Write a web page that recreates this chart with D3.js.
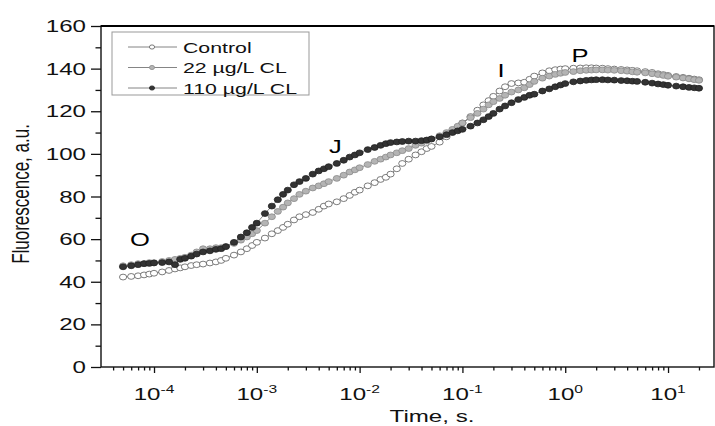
<!DOCTYPE html>
<html>
<head>
<meta charset="utf-8">
<script src="https://cdn.jsdelivr.net/npm/d3@7/dist/d3.min.js"></script>
<style>
  body { margin: 0; background: #fff; }
  svg { font-family: Arial, "Liberation Sans", sans-serif; }
</style>
</head>
<body>
<svg id="svg-chart" width="715" height="426"></svg>
<script>
//////////////////////////////////////////////////////////////////////////////////////////
// Data
//////////////////////////////////////////////////////////////////////////////////////////

var times = [
  5e-5, 6e-5, 7e-5, 8e-5, 9e-5,
  1e-4, 1.2e-4, 1.4e-4, 1.6e-4, 1.8e-4, 2e-4, 2.3e-4, 2.6e-4, 3e-4, 3.5e-4, 4e-4, 4.5e-4, 5e-4, 6e-4, 7e-4, 8e-4, 9e-4,
  1e-3, 1.2e-3, 1.4e-3, 1.6e-3, 1.8e-3, 2e-3, 2.3e-3, 2.6e-3, 3e-3, 3.5e-3, 4e-3, 4.5e-3, 5e-3, 6e-3, 7e-3, 8e-3, 9e-3,
  1e-2, 1.2e-2, 1.4e-2, 1.6e-2, 1.8e-2, 2e-2, 2.3e-2, 2.6e-2, 3e-2, 3.5e-2, 4e-2, 4.5e-2, 5e-2, 6e-2, 7e-2, 8e-2, 9e-2,
  0.1, 0.12, 0.14, 0.16, 0.18, 0.2, 0.23, 0.26, 0.3, 0.35, 0.4, 0.45, 0.5, 0.6, 0.7, 0.8, 0.9,
  1, 1.2, 1.4, 1.6, 1.8, 2, 2.3, 2.6, 3, 3.5, 4, 4.5, 5, 6, 7, 8, 9,
  10, 12, 14, 16, 18, 20
]

var control_values = [
  42.2, 42.5, 42.8, 43.2, 43.6,
  44, 44.6, 45.3, 46, 46.5, 47, 47.6, 48, 48.3, 48.8, 49.3, 50, 51, 52.5, 54, 55.5, 57,
  58.5, 60.5, 62.5, 64, 65.5, 67, 69, 70.5, 71.5, 72.5, 74, 75.5, 76.5, 77.5, 79, 80.5, 82,
  83, 85, 86.5, 88, 89, 90.5, 93, 95.5, 97.5, 99.5, 101, 102.5, 103.5, 105.5, 108, 110.5, 112.5,
  114.5, 117.5, 120.5, 123, 125, 127, 129.5, 131.5, 133, 133.3, 133.6, 135, 136.5, 138, 139, 139.5, 139.8,
  140, 140.2, 140.3, 140.4, 140.4, 140.3, 140.2, 140, 139.8, 139.6, 139.4, 139.2, 139, 138.6, 138.2, 137.6, 137.2,
  136.8, 136.3, 135.9, 135.5, 135.1, 134.8
]

var cl22_values = [
  47.5, 48, 48.5, 48.5, 49,
  49, 49.5, 50, 50.5, 51, 51.5, 52.5, 54, 55.5, 55.5, 56, 56, 56.5, 58, 59.5, 61, 62.5,
  64, 67.5, 70.5, 73, 75, 77, 79, 81, 82.5, 84, 85, 86, 87, 88.5, 90, 91.5, 92.5,
  93.5, 95, 96.5, 97.5, 98.5, 99.5, 100.5, 101.5, 102.5, 104, 105, 106, 107, 108.5, 110, 111.5, 113,
  114.5, 117, 119, 121, 123, 124.5, 126, 127.5, 129, 130, 131, 132.5, 134, 135.5, 136.5, 137.3, 137.8,
  138.2, 138.6, 139, 139.2, 139.3, 139.4, 139.4, 139.3, 139.2, 139, 138.8, 138.5, 138.3, 138, 137.6, 137.2, 136.8,
  136.4, 136, 135.6, 135.2, 134.8, 134.5
]

var cl110_values = [
  47, 47.5, 48, 48.5, 48.6,
  48.8, 49, 49.3, 48, 50.5, 51, 52, 53, 54, 54.5, 55.2, 55.5, 56.5, 58.5, 61, 63, 65.5,
  67.5, 72, 75.5, 78.5, 81, 83, 85.5, 87, 88.5, 90.5, 92, 93, 94, 95.5, 97, 98.5, 99.5,
  100.5, 102, 103, 104, 104.8, 105.3, 105.6, 105.8, 106, 106, 106.2, 106.5, 107, 108, 109, 110, 110.8,
  111.5, 113, 114.5, 116, 117.5, 119, 121, 122.5, 124, 125.5, 126.5, 127.5, 128, 129.5, 130.5, 131.5, 132.3,
  133, 133.8, 134.2, 134.5, 134.7, 134.8, 134.8, 134.7, 134.6, 134.4, 134.3, 134.1, 134, 133.6, 133.2, 132.8, 132.5,
  132.2, 131.8, 131.5, 131.2, 131, 130.8
]

var series_names = ['Control', '22 \u00b5g/L CL', '110 \u00b5g/L CL']
var y_tick_values = [0, 20, 40, 60, 80, 100, 120, 140, 160]
var y_minor_values = [10, 30, 50, 70, 90, 110, 130, 150]
var x_tick_exponents = [-4, -3, -2, -1, 0, 1]

var phase_labels = ['O', 'J', 'I', 'P']
var phase_times = [7.3e-5, 5.8e-3, 0.237, 1.39]
var phase_values = [57, 100.5, 136, 143]

//////////////////////////////////////////////////////////////////////////////////////////
// Global variables
//////////////////////////////////////////////////////////////////////////////////////////

var plot = { left: 101, right: 714, top: 26, bottom: 367 }
var text_stretch = 1.42

var marker_styles = [
  { fill: '#ffffff', stroke: '#5a5a5a' },
  { fill: '#b4b4b4', stroke: '#8a8a8a' },
  { fill: '#333333', stroke: '#222222' }
]

var x = d3.scaleLog()
  .domain([3.05e-5, 28])
  .range([plot.left, plot.right])

var y = d3.scaleLinear()
  .domain([0, 160])
  .range([plot.bottom, plot.top])

var svg = d3.select('#svg-chart')

draw_axes()
draw_series([control_values, cl22_values, cl110_values])
draw_phase_labels()
draw_legend()

//////////////////////////////////////////////////////////////////////////////////////////
// Helpers
//////////////////////////////////////////////////////////////////////////////////////////

// the picture is stretched sideways, so text is too
function stretched_text(parent, px, py, str, size, anchor) {
  return parent.append('text')
    .attr('transform', 'translate(' + px + ',' + py + ') scale(' + text_stretch + ',1)')
    .attr('font-size', size)
    .attr('text-anchor', anchor)
    .attr('fill', '#111')
    .text(str)
}

//////////////////////////////////////////////////////////////////////////////////////////
// Axes and frame
//////////////////////////////////////////////////////////////////////////////////////////

function draw_axes() {
  var g = svg.append('g').attr('id', 'g-axes')

  // Minor x ticks (2..9 in each decade)
  var minor_x = x.ticks().filter(function(d) {
    var m = Math.round(d / Math.pow(10, Math.floor(Math.log10(d) + 1e-9)))
    return m != 1
  })

  g.append('g')
    .attr('transform', 'translate(0,' + plot.bottom + ')')
    .call(d3.axisBottom(x).tickValues(minor_x).tickSize(3.5).tickFormat(''))
    .call(function(a) { a.select('.domain').remove() })

  g.append('g')
    .attr('transform', 'translate(0,' + plot.bottom + ')')
    .call(d3.axisBottom(x)
      .tickValues(x_tick_exponents.map(function(e) { return Math.pow(10, e) }))
      .tickSize(6).tickFormat(''))
    .call(function(a) { a.select('.domain').remove() })

  g.append('g')
    .attr('transform', 'translate(' + plot.left + ',0)')
    .call(d3.axisLeft(y).tickValues(y_minor_values).tickSize(5.5).tickFormat(''))
    .call(function(a) { a.select('.domain').remove() })

  g.append('g')
    .attr('transform', 'translate(' + plot.left + ',0)')
    .call(d3.axisLeft(y).tickValues(y_tick_values).tickSize(10).tickFormat(''))
    .call(function(a) { a.select('.domain').remove() })

  g.selectAll('.tick line').attr('stroke', '#111').attr('stroke-width', 1.3)

  // Frame
  g.append('rect')
    .attr('x', plot.left)
    .attr('y', plot.top)
    .attr('width', plot.right - plot.left)
    .attr('height', plot.bottom - plot.top)
    .attr('fill', 'none')
    .attr('stroke', '#111')
    .attr('stroke-width', 1.4)

  g.append('line')
    .attr('x1', plot.left).attr('x2', plot.right)
    .attr('y1', plot.top).attr('y2', plot.top)
    .attr('stroke', '#000')
    .attr('stroke-width', 2)

  // Y tick labels
  y_tick_values.forEach(function(v) {
    stretched_text(g, 86, y(v) + 6, v, 17, 'end')
  })

  // X tick labels, 10 with exponent
  x_tick_exponents.forEach(function(e) {
    var t = stretched_text(g, x(Math.pow(10, e)), 400, '', 17, 'middle')
    t.append('tspan').text('10')
    t.append('tspan')
      .attr('dy', -7)
      .attr('font-size', 11)
      .text(e)
  })

  // Axis titles
  stretched_text(g, 432, 422, 'Time, s.', 17, 'middle')

  g.append('text')
    .attr('transform', 'translate(29,194) scale(' + text_stretch + ',1) rotate(-90)')
    .attr('font-size', 17)
    .attr('text-anchor', 'middle')
    .attr('fill', '#111')
    .text('Fluorescence, a.u.')
}

//////////////////////////////////////////////////////////////////////////////////////////
// Series: thin connecting line plus circle markers
//////////////////////////////////////////////////////////////////////////////////////////

function draw_series(all_values) {
  var line = d3.line()
    .x(function(d) { return x(d[0]) })
    .y(function(d) { return y(d[1]) })

  all_values.forEach(function(values, i) {
    var pts = times.map(function(t, j) { return [t, values[j]] })
    var g = svg.append('g').attr('id', 'g-series-' + i)

    g.append('path')
      .datum(pts)
      .attr('d', line)
      .attr('fill', 'none')
      .attr('stroke', '#666')
      .attr('stroke-width', 0.8)

    g.selectAll('ellipse')
      .data(pts)
      .enter()
      .append('ellipse')
      .attr('cx', function(d) { return x(d[0]) })
      .attr('cy', function(d) { return y(d[1]) })
      .attr('rx', 3.6)
      .attr('ry', 2.9)
      .attr('fill', marker_styles[i].fill)
      .attr('stroke', marker_styles[i].stroke)
      .attr('stroke-width', 0.8)
  })
}

//////////////////////////////////////////////////////////////////////////////////////////
// O J I P labels
//////////////////////////////////////////////////////////////////////////////////////////

function draw_phase_labels() {
  var g = svg.append('g').attr('id', 'g-phase')
  phase_labels.forEach(function(lbl, i) {
    stretched_text(g, x(phase_times[i]), y(phase_values[i]), lbl, 18, 'middle')
      .attr('fill', '#000')
  })
}

//////////////////////////////////////////////////////////////////////////////////////////
// Legend
//////////////////////////////////////////////////////////////////////////////////////////

function draw_legend() {
  var g = svg.append('g').attr('id', 'g-legend')

  g.append('rect')
    .attr('x', 112)
    .attr('y', 32)
    .attr('width', 197)
    .attr('height', 63)
    .attr('fill', '#fff')
    .attr('stroke', '#999')
    .attr('stroke-width', 1)

  series_names.forEach(function(name, i) {
    var ry = 47 + i * 20.5
    g.append('line')
      .attr('x1', 128).attr('x2', 177)
      .attr('y1', ry).attr('y2', ry)
      .attr('stroke', '#777')
      .attr('stroke-width', 0.9)

    g.append('ellipse')
      .attr('cx', 152).attr('cy', ry)
      .attr('rx', 2.6).attr('ry', 2.1)
      .attr('fill', marker_styles[i].fill)
      .attr('stroke', marker_styles[i].stroke)
      .attr('stroke-width', 0.8)

    stretched_text(g, 183, ry + 5.5, name, 15, 'start')
  })
}
</script>
</body>
</html>
